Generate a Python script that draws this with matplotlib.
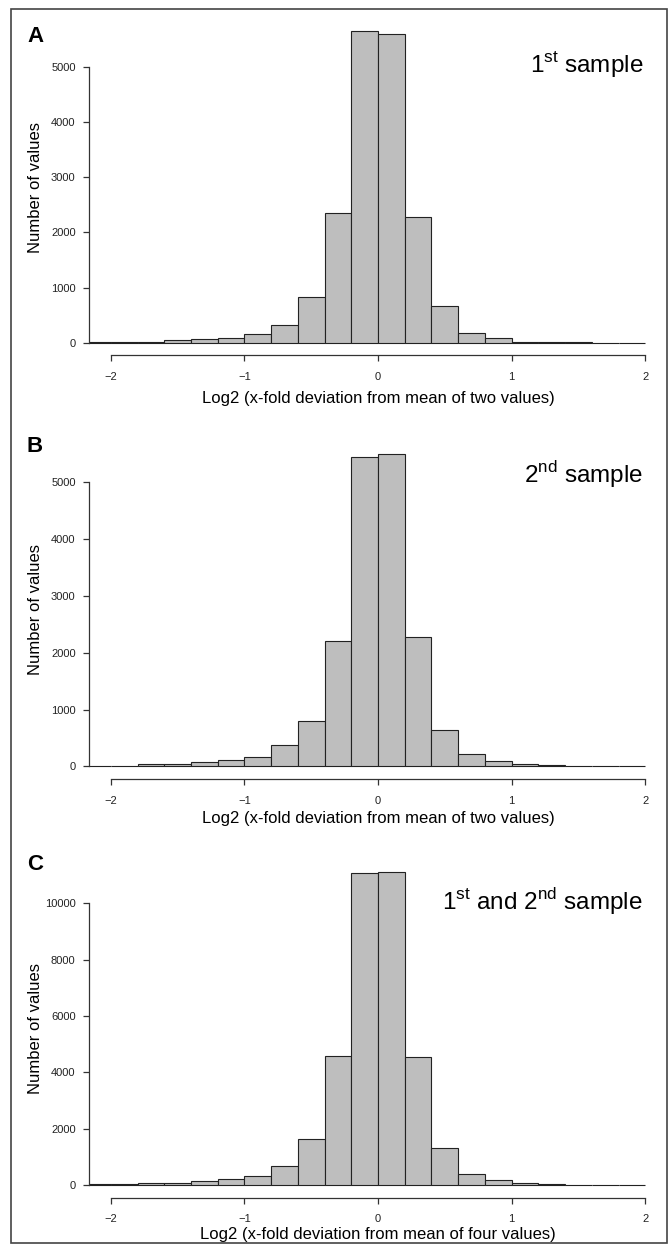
import matplotlib
matplotlib.use("Agg")
import matplotlib.pyplot as plt
from matplotlib.patches import Rectangle

plt.rcParams["font.family"] = ["Liberation Sans", "DejaVu Sans"]
plt.rcParams["mathtext.fontset"] = "custom"
plt.rcParams["mathtext.rm"] = "Liberation Sans"

# Histogram bins (log2 deviation), 0.2 wide
bin_edges = [-2.2, -2.0, -1.8, -1.6, -1.4, -1.2, -1.0, -0.8, -0.6, -0.4, -0.2,
             0.0, 0.2, 0.4, 0.6, 0.8, 1.0, 1.2, 1.4, 1.6, 1.8, 2.0]

# counts
counts_a = [12, 12, 20, 45, 62, 90, 165, 315, 825, 2350, 5640,
            5595, 2285, 672, 182, 93, 20, 12, 8, 3, 2]
counts_b = [6, 6, 35, 41, 76, 105, 166, 376, 795, 2205, 5440,
            5510, 2270, 637, 212, 90, 35, 18, 6, 10, 1]
counts_c = [24, 24, 59, 83, 130, 200, 320, 690, 1627, 4565, 11070,
            11100, 4555, 1300, 395, 190, 70, 35, 12, 5, 3]

x_ticks = [-2, -1, 0, 1, 2]
y_ticks_ab = [0, 1000, 2000, 3000, 4000, 5000]
y_ticks_c = [0, 2000, 4000, 6000, 8000, 10000]

panels = [
    ("A", counts_a, y_ticks_ab, "1$^{\\mathrm{st}}$ sample",
     "Log2 (x-fold deviation from mean of two values)"),
    ("B", counts_b, y_ticks_ab, "2$^{\\mathrm{nd}}$ sample",
     "Log2 (x-fold deviation from mean of two values)"),
    ("C", counts_c, y_ticks_c, "1$^{\\mathrm{st}}$ and 2$^{\\mathrm{nd}}$ sample",
     "Log2 (x-fold deviation from mean of four values)"),
]

# layout in pixels: plot top, plot bottom, label centre, title centre, xlabel centre
layout = [
    (18.9, 355.2, 36, 64, 399),
    (441.0, 778.9, 446, 475, 818),
    (859.6, 1197.6, 865, 902, 1235),
]

W, H = 668, 1244
fig = plt.figure(figsize=(W / 100, H / 100), dpi=100)


def px_rect(l, t, r, b):
    return [l / W, 1 - b / H, (r - l) / W, (b - t) / H]


bar_color = "#bebebe"
line_color = "#333333"

for (letter, counts, yticks, title, xlabel), (top, bot, lab_y, tit_y, xl_y) in zip(panels, layout):
    ax = fig.add_axes(px_rect(89.5, top, 666.6, bot))
    lefts = bin_edges[:-1]
    widths = [b - a for a, b in zip(bin_edges[:-1], bin_edges[1:])]
    ax.bar(lefts, counts, width=widths, align="edge", color=bar_color,
           edgecolor="#222222", linewidth=0.8)
    top_count = max(counts)
    ax.set_xlim(-2.16, 2.16)
    ax.set_ylim(-0.04 * top_count, 1.04 * top_count)

    for s in ["top", "right"]:
        ax.spines[s].set_visible(False)
    ax.spines["bottom"].set_bounds(x_ticks[0], x_ticks[-1])
    ax.spines["left"].set_bounds(yticks[0], yticks[-1])
    for s in ["bottom", "left"]:
        ax.spines[s].set_color(line_color)
        ax.spines[s].set_linewidth(0.9)

    ax.set_xticks(x_ticks)
    ax.set_yticks(yticks)
    ax.tick_params(axis="both", length=4, width=0.9, color=line_color,
                   labelsize=8, colors="#222222")
    ax.tick_params(axis="x", pad=8)
    ax.tick_params(axis="y", pad=6)

    # y label centred on plot region
    fig.text(36 / W, 1 - (top + bot) / 2 / H, "Number of values",
             rotation=90, ha="center", va="center", fontsize=12)
    fig.text(378 / W, 1 - xl_y / H, xlabel, ha="center", va="center", fontsize=12)
    fig.text(35 / W, 1 - lab_y / H, letter, ha="center", va="center",
             fontsize=16, fontweight="bold")
    fig.text(643 / W, 1 - tit_y / H, title, ha="right", va="center", fontsize=17.5)

# frame around the whole figure
fig.patches.append(Rectangle((11 / W, 1 - 1243 / H), (667 - 11) / W, (1243 - 9) / H,
                             transform=fig.transFigure, fill=False,
                             edgecolor="#444444", linewidth=1.2))

fig.savefig("out.png", dpi=100)
